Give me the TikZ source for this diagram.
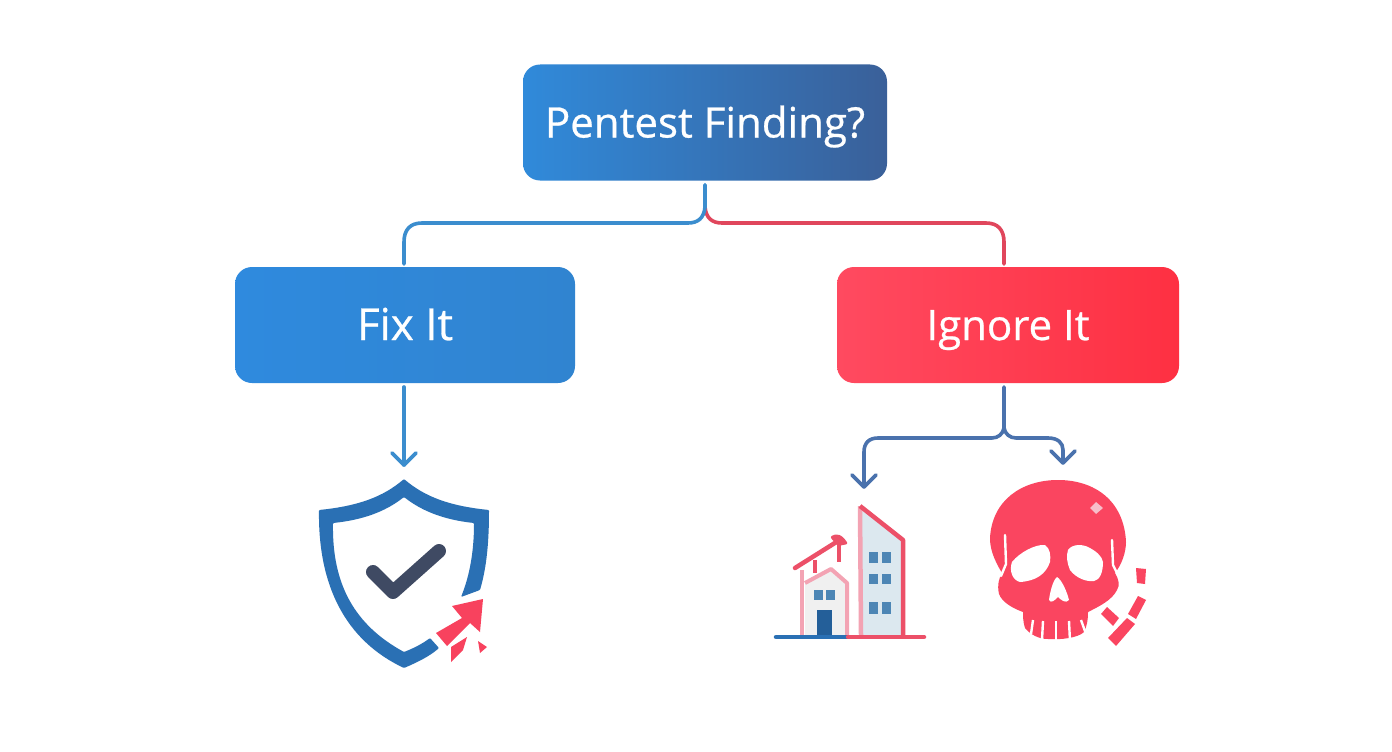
\documentclass[tikz,border=0pt]{standalone}
\usepackage{fontspec}
\setmainfont{Open Sans}
\newfontfamily\lab{Open Sans}[FakeBold=0.6]
\usetikzlibrary{calc}
\definecolor{linkblue}{HTML}{3B8DCE}
\definecolor{linkred}{HTML}{E0465C}
\definecolor{linksteel}{HTML}{4A72AD}
\definecolor{shieldblue}{HTML}{2A70B4}
\definecolor{checkdark}{HTML}{3F4A63}
\definecolor{alert}{HTML}{F8425E}
\definecolor{skullred}{HTML}{FA4560}
\definecolor{pinkline}{HTML}{F3A3B3}
\definecolor{redline}{HTML}{EC5068}
\definecolor{winblue}{HTML}{4D86B5}
\definecolor{towerfill}{HTML}{DCE8EF}
\tikzset{
  box/.style={rounded corners=17pt,minimum height=116pt,inner sep=0pt,text=white,text height=30pt,text depth=0pt},
  link/.style={line width=3.6pt,line cap=round,line join=round},
  chev/.style={link},
  win/.style={fill=winblue,draw=none},
  slit/.style={draw=white,line width=2.4pt},
  frag/.style={fill=skullred,draw=none},
}
\begin{document}
\begin{tikzpicture}[x=1pt,y=-1pt]
\useasboundingbox (0,0) rectangle (1392,752);
\fill[white] (0,0) rectangle (1392,752);
% boxes
\node[box,minimum width=364pt,left color={rgb,255:red,48;green,138;blue,218},right color={rgb,255:red,58;green,96;blue,153},font={\lab\fontsize{42}{50}\selectfont}] (root) at (705,122.5) {Pentest Finding?};
\node[box,minimum width=340pt,left color={rgb,255:red,47;green,138;blue,222},right color={rgb,255:red,48;green,132;blue,208},font={\lab\fontsize{44}{50}\selectfont}] (fix) at (405,325) {Fix It};
\node[box,minimum width=342pt,left color={rgb,255:red,255;green,74;blue,96},right color={rgb,255:red,254;green,48;blue,66},font={\lab\fontsize{42}{50}\selectfont}] (ignore) at (1008,325) {Ignore It};
% junction coordinates
\coordinate (rootfoot) at ($(root.south)+(0,4)$);
\coordinate (rootsplit) at (705,207);
\coordinate (fixtop) at (404,264);
\coordinate (igtop) at (1004,264);
\coordinate (fixfoot) at (404,387);
\coordinate (fixtip) at (404,465);
\coordinate (igfoot) at (1004,387);
\coordinate (igsplit) at (1004,428);
\coordinate (bldtip) at (864,487);
\coordinate (skulltip) at (1063,463);
% root connectors
\draw[link,linkred] (rootsplit) .. controls (706,218) and (712,223) .. (722,223) -- (986,223) .. controls (998,223) and (1004,230) .. (1004,242) -- (igtop);
\draw[link,linkblue] (rootfoot) -- (rootsplit) .. controls (704,218) and (698,223) .. (688,223) -- (422,223) .. controls (410,223) and (404,230) .. (404,242) -- (fixtop);
% fix arrow
\draw[link,linkblue] (fixfoot) -- (fixtip);
\draw[chev,linkblue] ($(fixtip)+(-12,-12)$) -- (fixtip) -- ($(fixtip)+(12,-12)$);
% ignore connectors
\draw[link,linksteel] (igfoot) -- (igsplit) .. controls (1003,434) and (998,438) .. (992,438) -- (878,438) .. controls (869,438) and (864,443) .. (864,452) -- (bldtip);
\draw[link,linksteel] (igsplit) .. controls (1005,434) and (1010,438) .. (1016,438) -- (1048,438) .. controls (1058,438) and (1063,443) .. (1063,450) -- (skulltip);
\draw[chev,linksteel] ($(bldtip)+(-12,-12)$) -- (bldtip) -- ($(bldtip)+(12,-12)$);
\draw[chev,linksteel] ($(skulltip)+(-12,-12)$) -- (skulltip) -- ($(skulltip)+(12,-12)$);
% shield
\fill[shieldblue,rounded corners=1pt] (480,590) .. controls (487,566) and (489,540) .. (489,510)
  .. controls (450,506) and (425,497) .. (404,479)
  .. controls (383,497) and (358,506) .. (319,510)
  .. controls (318,585) and (345,640) .. (404,668)
  .. controls (418,662) and (430,656) .. (439,648) -- (430,638)
  .. controls (422,644) and (414,648) .. (404,652)
  .. controls (355,625) and (332,585) .. (333,523)
  .. controls (362,520) and (385,512) .. (404,497)
  .. controls (423,512) and (446,520) .. (474,523)
  .. controls (474,550) and (470,575) .. (461,597) -- cycle;
\draw[checkdark,line width=14pt,line cap=round,line join=round] (373,572) -- (393,592) -- (439,551);
\fill[alert] (483,599) -- (452,606) -- (462,618) -- (436,633) -- (447,646) -- (470,623) -- (480,632) -- cycle;
\fill[alert] (467,637) -- (463,650) -- (451,662) -- (451,647) -- cycle;
\fill[alert] (478,641) -- (487,647) -- (480,653) -- cycle;
% buildings
\fill[towerfill] (860,506) -- (903,540) -- (903,635) -- (861,635) -- cycle;
\draw[pinkline,line width=4.5pt,line join=round] (861,635) -- (860,506);
\draw[redline,line width=4.5pt,line join=round] (860,506) -- (903,540) -- (903,635);
\foreach \yy/\hh in {552/11,574/10,602/12}{
  \fill[win] (869,\yy) rectangle +(9,\hh);
  \fill[win] (882,\yy) rectangle +(9,\hh);
}
\fill[black!6!white] (805,584) -- (831,569) -- (847,583) -- (847,635) -- (805,635) -- cycle;
\draw[pinkline,line width=4pt,line join=round] (805,583) -- (831,569) -- (847,583) -- (847,635);
\draw[pinkline,line width=4.5pt] (802,570) -- (802,635);
\fill[win] (814,590) rectangle (823,600);
\fill[win] (826,590) rectangle (835,600);
\fill[shieldblue!85!black] (817,610) rectangle (832,635);
\draw[redline,line width=4.5pt,line cap=round] (795,568) -- (838,541);
\fill[redline,rounded corners=2pt] (830,537) .. controls (836,533) and (842,534) .. (848,544) -- (838,546) -- cycle;
\draw[redline,line width=3.5pt] (815,560) -- (815,573);
\draw[redline,line width=4pt] (839,543) -- (839,562);
\draw[shieldblue,line width=4.5pt,line cap=round] (776,637) -- (848,637);
\draw[redline,line width=4.5pt,line cap=round] (848,637) -- (924,637);
% skull
\fill[skullred] (1002,573) .. controls (993,558) and (990,548) .. (990,538)
  .. controls (992,500) and (1022,480) .. (1058,480)
  .. controls (1094,480) and (1124,500) .. (1126,542)
  .. controls (1126,552) and (1122,564) .. (1115,573)
  .. controls (1119,580) and (1120,585) .. (1117,590)
  .. controls (1112,600) and (1100,606) .. (1088,612)
  .. controls (1088,620) and (1087,626) .. (1084,632)
  .. controls (1078,638) and (1060,640) .. (1048,639)
  .. controls (1038,639) and (1030,634) .. (1025,628)
  .. controls (1023,622) and (1023,616) .. (1023,612)
  .. controls (1012,608) and (1002,602) .. (999,594)
  .. controls (997,585) and (999,578) .. (1002,573) -- cycle;
\fill[white] (1012,562) .. controls (1020,552) and (1036,544) .. (1045,545)
  .. controls (1050,548) and (1051,556) .. (1050,562)
  .. controls (1046,574) and (1036,581) .. (1020,582)
  .. controls (1012,580) and (1009,570) .. (1012,562) -- cycle;
\fill[white] (1068,550) .. controls (1072,544) and (1082,544) .. (1088,547)
  .. controls (1096,551) and (1102,556) .. (1103,562)
  .. controls (1103,572) and (1100,580) .. (1094,581)
  .. controls (1086,582) and (1076,578) .. (1070,570)
  .. controls (1067,563) and (1066,556) .. (1068,550) -- cycle;
\fill[white] (1057,577) .. controls (1062,580) and (1067,592) .. (1069,600)
  .. controls (1066,604) and (1061,600) .. (1058,597)
  .. controls (1055,600) and (1051,604) .. (1049,600)
  .. controls (1050,592) and (1053,580) .. (1057,577) -- cycle;
\draw[slit,line cap=round] (1005,535) -- (1006,564) -- (1001,576);
\draw[slit,line cap=round] (1112,540) -- (1113,565) -- (1118,575);
\draw[slit] (1033,620) -- (1031,634);
\draw[slit] (1043,621) -- (1042,640);
\draw[slit] (1056,621) -- (1056,642);
\draw[slit] (1069,621) -- (1070,642);
\draw[slit] (1081,620) -- (1086,634);
\fill[pinkline!70!white] (1096,502) -- (1103,508) -- (1096,514) -- (1090,508) -- cycle;
\fill[frag] (1136,568) -- (1146,569) -- (1145,584) -- (1137,583) -- cycle;
\fill[frag] (1107,607) -- (1119,618) -- (1113,626) -- (1101,614) -- cycle;
\fill[frag] (1138,596) -- (1146,600) -- (1136,619) -- (1128,614) -- cycle;
\fill[frag] (1127,618) -- (1135,624) -- (1116,646) -- (1108,638) -- cycle;
\end{tikzpicture}
\end{document}
